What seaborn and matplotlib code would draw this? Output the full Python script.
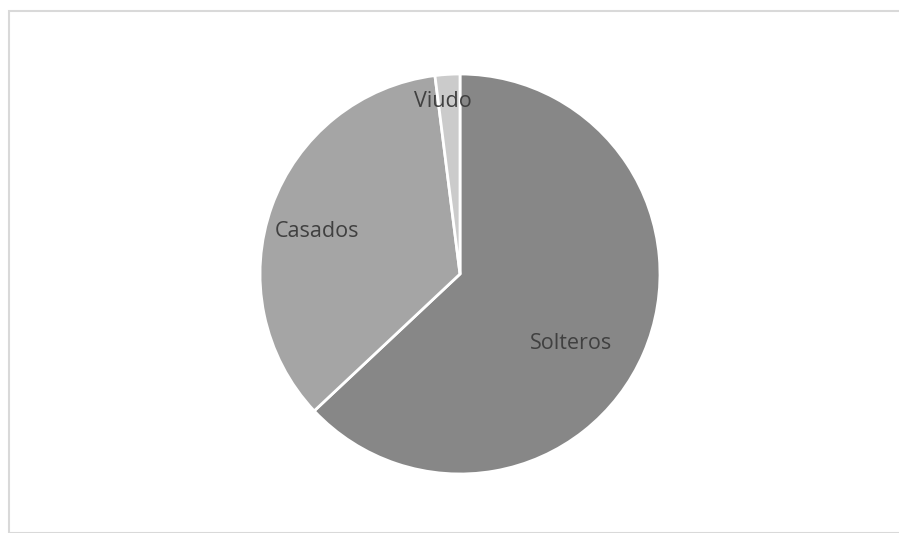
import numpy as np
import matplotlib
matplotlib.use("Agg")
import matplotlib.pyplot as plt
from matplotlib.patches import Rectangle
import seaborn as sns

categorias = ["Solteros", "Casados", "Viudo"]
valores = [63, 35, 2]
colores = ["#878787", "#a5a5a5", "#cbcbcb"]

sns.set_theme(style="white")
plt.rcParams["font.family"] = ["Open Sans", "DejaVu Sans"]

W, H = 899, 533
fig = plt.figure(figsize=(W / 100, H / 100), dpi=100)
ax = fig.add_axes([0, 0, 1, 1])

# marco gris claro del grafico
fig.patches.append(Rectangle((8.5 / W, 0), 1, 1 - 10.5 / H, transform=fig.transFigure,
                             fill=False, edgecolor="#d9d9d9", linewidth=1.5))

cx, cy, r = 460, H - 274, 200
wedges, _ = ax.pie(valores, colors=colores, startangle=90, counterclock=False,
                   radius=r, center=(cx, cy), labeldistance=None,
                   wedgeprops={"edgecolor": "white", "linewidth": 2})
ax.set_xlim(0, W)
ax.set_ylim(0, H)
ax.set_aspect("equal")
ax.axis("off")

# distancia de cada etiqueta (fraccion del radio), desplazamiento angular
dist = [0.65, 0.75, 0.88]
desv = [-7.5, 2.5, 2]
for w, lab, d, da in zip(wedges, categorias, dist, desv):
    ang = np.deg2rad((w.theta1 + w.theta2) / 2 + da)
    ax.text(cx + d * r * np.cos(ang), cy + d * r * np.sin(ang), lab,
            ha="center", va="center_baseline", fontsize=15.5, color="#404040")

fig.savefig("out.png", dpi=100)
